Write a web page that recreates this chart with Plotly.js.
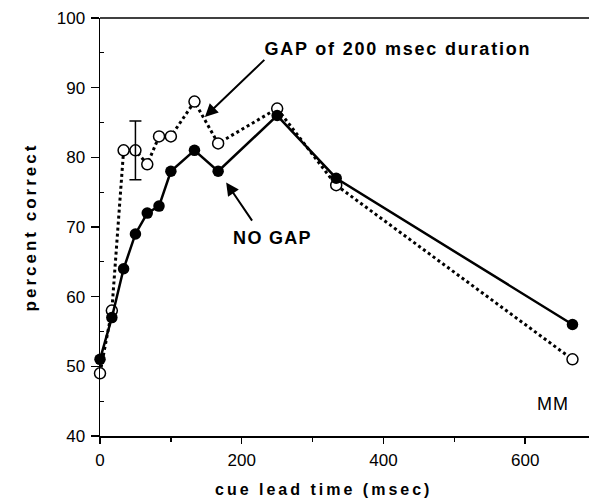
<!DOCTYPE html>
<html>
<head>
<meta charset="utf-8">
<script src="https://cdn.plot.ly/plotly-3.0.1.min.js"></script>
<style>
html,body{margin:0;padding:0;background:#fff;}
#chart{width:589px;height:502px;}
#chart .annotation[data-index="0"] .annotation-text{letter-spacing:3px;}
#chart .annotation[data-index="1"] .annotation-text{letter-spacing:1.8px;}
#chart .annotation[data-index="3"] .annotation-text{letter-spacing:1.3px;}
#chart .annotation[data-index="5"] .annotation-text{letter-spacing:1px;}
#chart .ytitle{letter-spacing:3px;}
</style>
</head>
<body>
<div id="chart"></div>
<script>
// cue lead time (msec)
const leadTime = [0, 16.7, 33.3, 50, 66.7, 83.3, 100, 133.3, 166.7, 250, 333.3, 666.7];
// percent correct, NO GAP (filled circles)
const noGap = [51, 57, 64, 69, 72, 73, 78, 81, 78, 86, 77, 56];
// percent correct, GAP of 200 msec duration (open circles)
const gap = [49, 58, 81, 81, 79, 83, 83, 88, 82, 87, 76, 51];
// error bar
const errX = [50];
const errY = [81];
const errHalf = [4.2];

const FONT = '"Liberation Sans", Arial, Helvetica, sans-serif';

const traces = [
  {
    x: leadTime, y: gap, type: 'scatter', mode: 'lines+markers', name: 'GAP of 200 msec duration',
    line: {color: '#000', width: 3, dash: 'dot'},
    marker: {symbol: 'circle', size: 11, color: '#fff', line: {color: '#000', width: 1.5}},
    cliponaxis: false
  },
  {
    x: leadTime, y: noGap, type: 'scatter', mode: 'lines+markers', name: 'NO GAP',
    line: {color: '#000', width: 2.5},
    marker: {symbol: 'circle', size: 11.5, color: '#000'},
    cliponaxis: false
  },
  {
    x: errX, y: errY, type: 'scatter', mode: 'markers', name: 'error',
    marker: {size: 1, color: 'rgba(0,0,0,0)'},
    error_y: {type: 'data', array: errHalf, visible: true, color: '#000', thickness: 1.5, width: 6}
  }
];

const layout = {
  width: 589, height: 502,
  margin: {l: 100, r: 0, t: 18, b: 66},
  paper_bgcolor: '#fff', plot_bgcolor: '#fff',
  showlegend: false,
  font: {family: FONT, color: '#000', size: 17},
  xaxis: {
    range: [0, 690], showgrid: false, zeroline: false,
    showline: true, linecolor: '#000', linewidth: 1.5, mirror: false,
    tickvals: [0, 200, 400, 600], ticktext: ['0', '200', '400', '600'],
    ticks: 'outside', ticklen: 6, tickwidth: 1.5, tickcolor: '#000',
    minor: {tickvals: [100, 300, 500], ticks: 'outside', ticklen: 4, tickwidth: 1.5, tickcolor: '#000'},
    tickfont: {family: FONT, size: 17, color: '#000'},
    ticklabelstandoff: 2
  },
  yaxis: {
    range: [40, 100], showgrid: false, zeroline: false,
    showline: true, linecolor: '#000', linewidth: 1.5,
    tickvals: [40, 50, 60, 70, 80, 90, 100],
    ticks: 'outside', ticklen: 8, tickwidth: 1.5, tickcolor: '#000',
    minor: {tickvals: [45, 55, 65, 75, 85, 95], ticks: 'inside', ticklen: 4, tickwidth: 1, tickcolor: '#000'},
    tickfont: {family: FONT, size: 17, color: '#000'},
    ticklabelstandoff: 2,
    title: {text: '<b>percent correct</b>', font: {family: FONT, size: 17, color: '#000'}, standoff: 16}
  },
  shapes: [
    {type: 'line', xref: 'paper', yref: 'paper', x0: 0, x1: 1, y0: 1, y1: 1, line: {color: '#000', width: 1.5}}
  ],
  annotations: [
    {xref: 'paper', yref: 'paper', x: 0.458, y: -0.128, yanchor: 'middle', xanchor: 'center', showarrow: false,
     text: '<b>cue lead time (msec)</b>', font: {family: FONT, size: 16, color: '#000'}},
    {xref: 'x', yref: 'y', x: 420, y: 95.5, xanchor: 'center', yanchor: 'middle', showarrow: false,
     text: '<b>GAP of 200 msec duration</b>', font: {family: FONT, size: 18, color: '#000'}},
    {xref: 'x', yref: 'y', x: 148, y: 85.8, ax: 234, ay: 94.2, axref: 'x', ayref: 'y',
     showarrow: true, arrowhead: 2, arrowsize: 1.3, arrowwidth: 2, arrowcolor: '#000', text: ''},
    {xref: 'x', yref: 'y', x: 244, y: 68.4, xanchor: 'center', yanchor: 'middle', showarrow: false,
     text: '<b>NO GAP</b>', font: {family: FONT, size: 18, color: '#000'}},
    {xref: 'x', yref: 'y', x: 178, y: 76.4, ax: 216, ay: 70.7, axref: 'x', ayref: 'y',
     showarrow: true, arrowhead: 2, arrowsize: 1.3, arrowwidth: 2, arrowcolor: '#000', text: ''},
    {xref: 'x', yref: 'y', x: 639, y: 44.6, xanchor: 'center', yanchor: 'middle', showarrow: false,
     text: 'MM', font: {family: FONT, size: 18, color: '#000'}}
  ]
};

Plotly.newPlot('chart', traces, layout, {displayModeBar: false, staticPlot: true});
</script>
</body>
</html>
